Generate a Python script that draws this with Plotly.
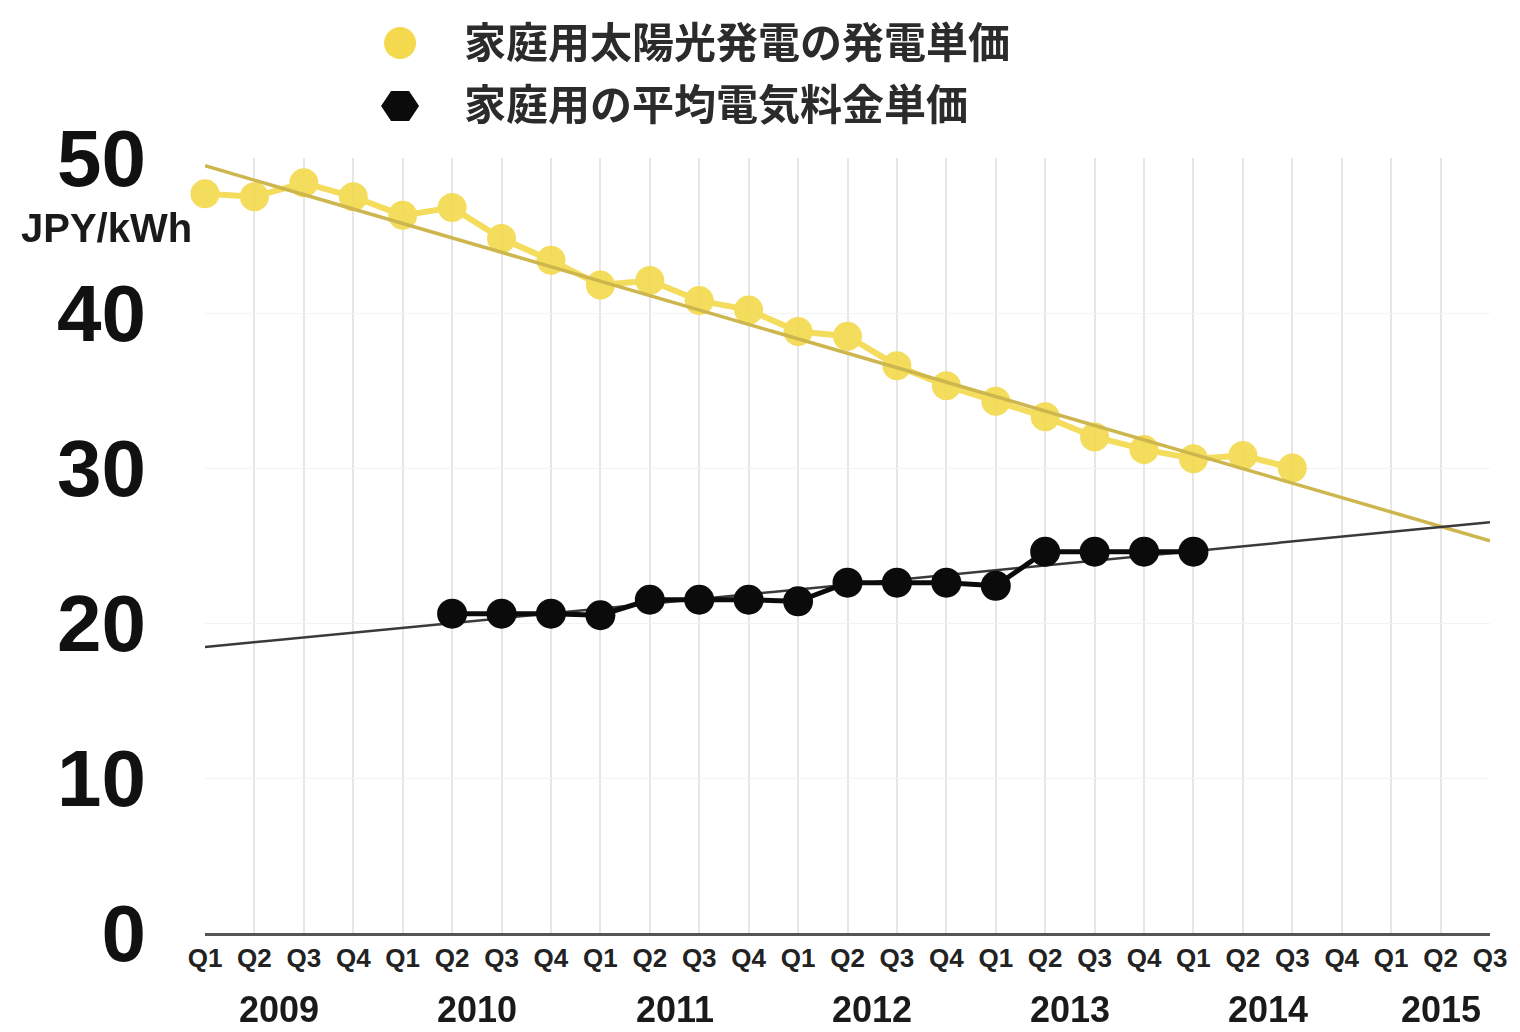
import plotly.graph_objects as go

# ---------------- data ----------------
years = ["2009", "2010", "2011", "2012", "2013", "2014", "2015"]
quarters_per_year = [["Q1", "Q2", "Q3", "Q4"]] * 6 + [["Q1", "Q2", "Q3"]]
periods = [f"{y} {q}" for y, qs in zip(years, quarters_per_year) for q in qs]
quarter_labels = [q for qs in quarters_per_year for q in qs]

# 家庭用太陽光発電の発電単価 (JPY/kWh), 2009 Q1 .. 2014 Q3
solar_periods = periods[0:23]
solar_cost = [47.7, 47.5, 48.4, 47.5, 46.3, 46.8, 44.8, 43.4, 41.8, 42.1,
              40.8, 40.2, 38.8, 38.5, 36.6, 35.3, 34.3, 33.3, 32.0, 31.2,
              30.6, 30.8, 30.0]

# 家庭用の平均電気料金単価 (JPY/kWh), 2010 Q2 .. 2013 Q1
tariff_periods = periods[5:21]
tariff = [20.6, 20.6, 20.6, 20.5, 21.5, 21.5, 21.5, 21.4, 22.6, 22.6,
          22.6, 22.4, 24.6, 24.6, 24.6, 24.6]

# trend lines (start / end values)
trend_periods = [periods[0], periods[-1]]
solar_trend = [49.5, 25.3]
tariff_trend = [18.45, 26.5]

legend_names = ["家庭用太陽光発電の発電単価", "家庭用の平均電気料金単価"]
y_ticks = [0, 10, 20, 30, 40, 50]
unit_label = "JPY/kWh"

# ---------------- style ----------------
YELLOW = "#F4D94E"
YELLOW_TREND = "#CDB64E"
BLACK = "#0b0b0b"
FONT = "Liberation Sans, Arial, sans-serif"
CJK = "Noto Sans CJK JP, sans-serif"

fig = go.Figure()

fig.add_trace(go.Scatter(
    x=solar_periods, y=solar_cost, mode="lines+markers",
    line=dict(color=YELLOW, width=6),
    marker=dict(color=YELLOW, size=29),
    opacity=0.92, cliponaxis=False, showlegend=False, name=legend_names[0]))
fig.add_trace(go.Scatter(
    x=trend_periods, y=solar_trend, mode="lines",
    line=dict(color=YELLOW_TREND, width=3.5),
    cliponaxis=False, showlegend=False, hoverinfo="skip"))
fig.add_trace(go.Scatter(
    x=trend_periods, y=tariff_trend, mode="lines",
    line=dict(color="#3a3a3a", width=2.5),
    cliponaxis=False, showlegend=False, hoverinfo="skip"))
fig.add_trace(go.Scatter(
    x=tariff_periods, y=tariff, mode="lines+markers",
    line=dict(color=BLACK, width=5),
    marker=dict(color=BLACK, size=30),
    cliponaxis=False, showlegend=False, name=legend_names[1]))

# year labels centred under their quarters
annotations = []
idx = 0
for y, qs in zip(years, quarters_per_year):
    centre = idx + (len(qs) - 1) / 2
    idx += len(qs)
    annotations.append(dict(
        x=centre, y=0, xref="x", yref="paper", yanchor="middle",
        yshift=-76, text=f"<b>{y}</b>", showarrow=False,
        font=dict(family=FONT, size=36, color="#1a1a1a")))

# unit label
annotations.append(dict(
    x=-0.077, y=0.91, xref="paper", yref="paper", xanchor="center",
    yanchor="middle", text=f"<b>{unit_label}</b>", showarrow=False,
    font=dict(family=FONT, size=40, color="#1a1a1a")))

# manual legend
legend_y = [1.1535, 1.0723]
for name, ly in zip(legend_names, legend_y):
    annotations.append(dict(
        x=0.2, y=ly, xref="paper", yref="paper", xanchor="left",
        yanchor="middle", text=f"<b>{name}</b>", showarrow=False,
        font=dict(family=CJK, size=42, color="#2b2b2b")))

shapes = [
    dict(type="circle", xref="paper", yref="paper", xsizemode="pixel",
         ysizemode="pixel", xanchor=0.1518, yanchor=1.1484,
         x0=-16, x1=16, y0=-16, y1=16,
         fillcolor=YELLOW, line=dict(width=0)),
    dict(type="path", xref="paper", yref="paper", xsizemode="pixel",
         ysizemode="pixel", xanchor=0.1518, yanchor=1.0671,
         path="M -19,0 L -9,15 L 9,15 L 19,0 L 9,-15 L -9,-15 Z",
         fillcolor=BLACK, line=dict(width=0)),
]

fig.update_layout(
    width=1512, height=1024,
    margin=dict(l=197, r=30, t=150, b=99),
    paper_bgcolor="white", plot_bgcolor="white",
    annotations=annotations, shapes=shapes,
    xaxis=dict(
        type="category", categoryorder="array", categoryarray=periods,
        range=[0, len(periods) - 1],
        tickmode="array", tickvals=periods,
        ticktext=[f"<b>{q}</b>" for q in quarter_labels],
        tickfont=dict(family=FONT, size=26, color="#222"),
        tickangle=0,
        showgrid=True, gridcolor="#e6e6e6", gridwidth=1.5,
        showline=True, linecolor="#555", linewidth=3,
        ticks="", zeroline=False),
    yaxis=dict(
        range=[0, 50], tickvals=y_ticks,
        ticktext=[f"<b>{v}</b>" for v in y_ticks],
        tickfont=dict(family=FONT, size=80, color="#111"),
        ticklabelstandoff=58,
        showgrid=True, gridcolor="#f3f3f3", gridwidth=1,
        zeroline=False, showline=False, ticks=""),
    hovermode=False,
)

fig.write_html("out.html")
